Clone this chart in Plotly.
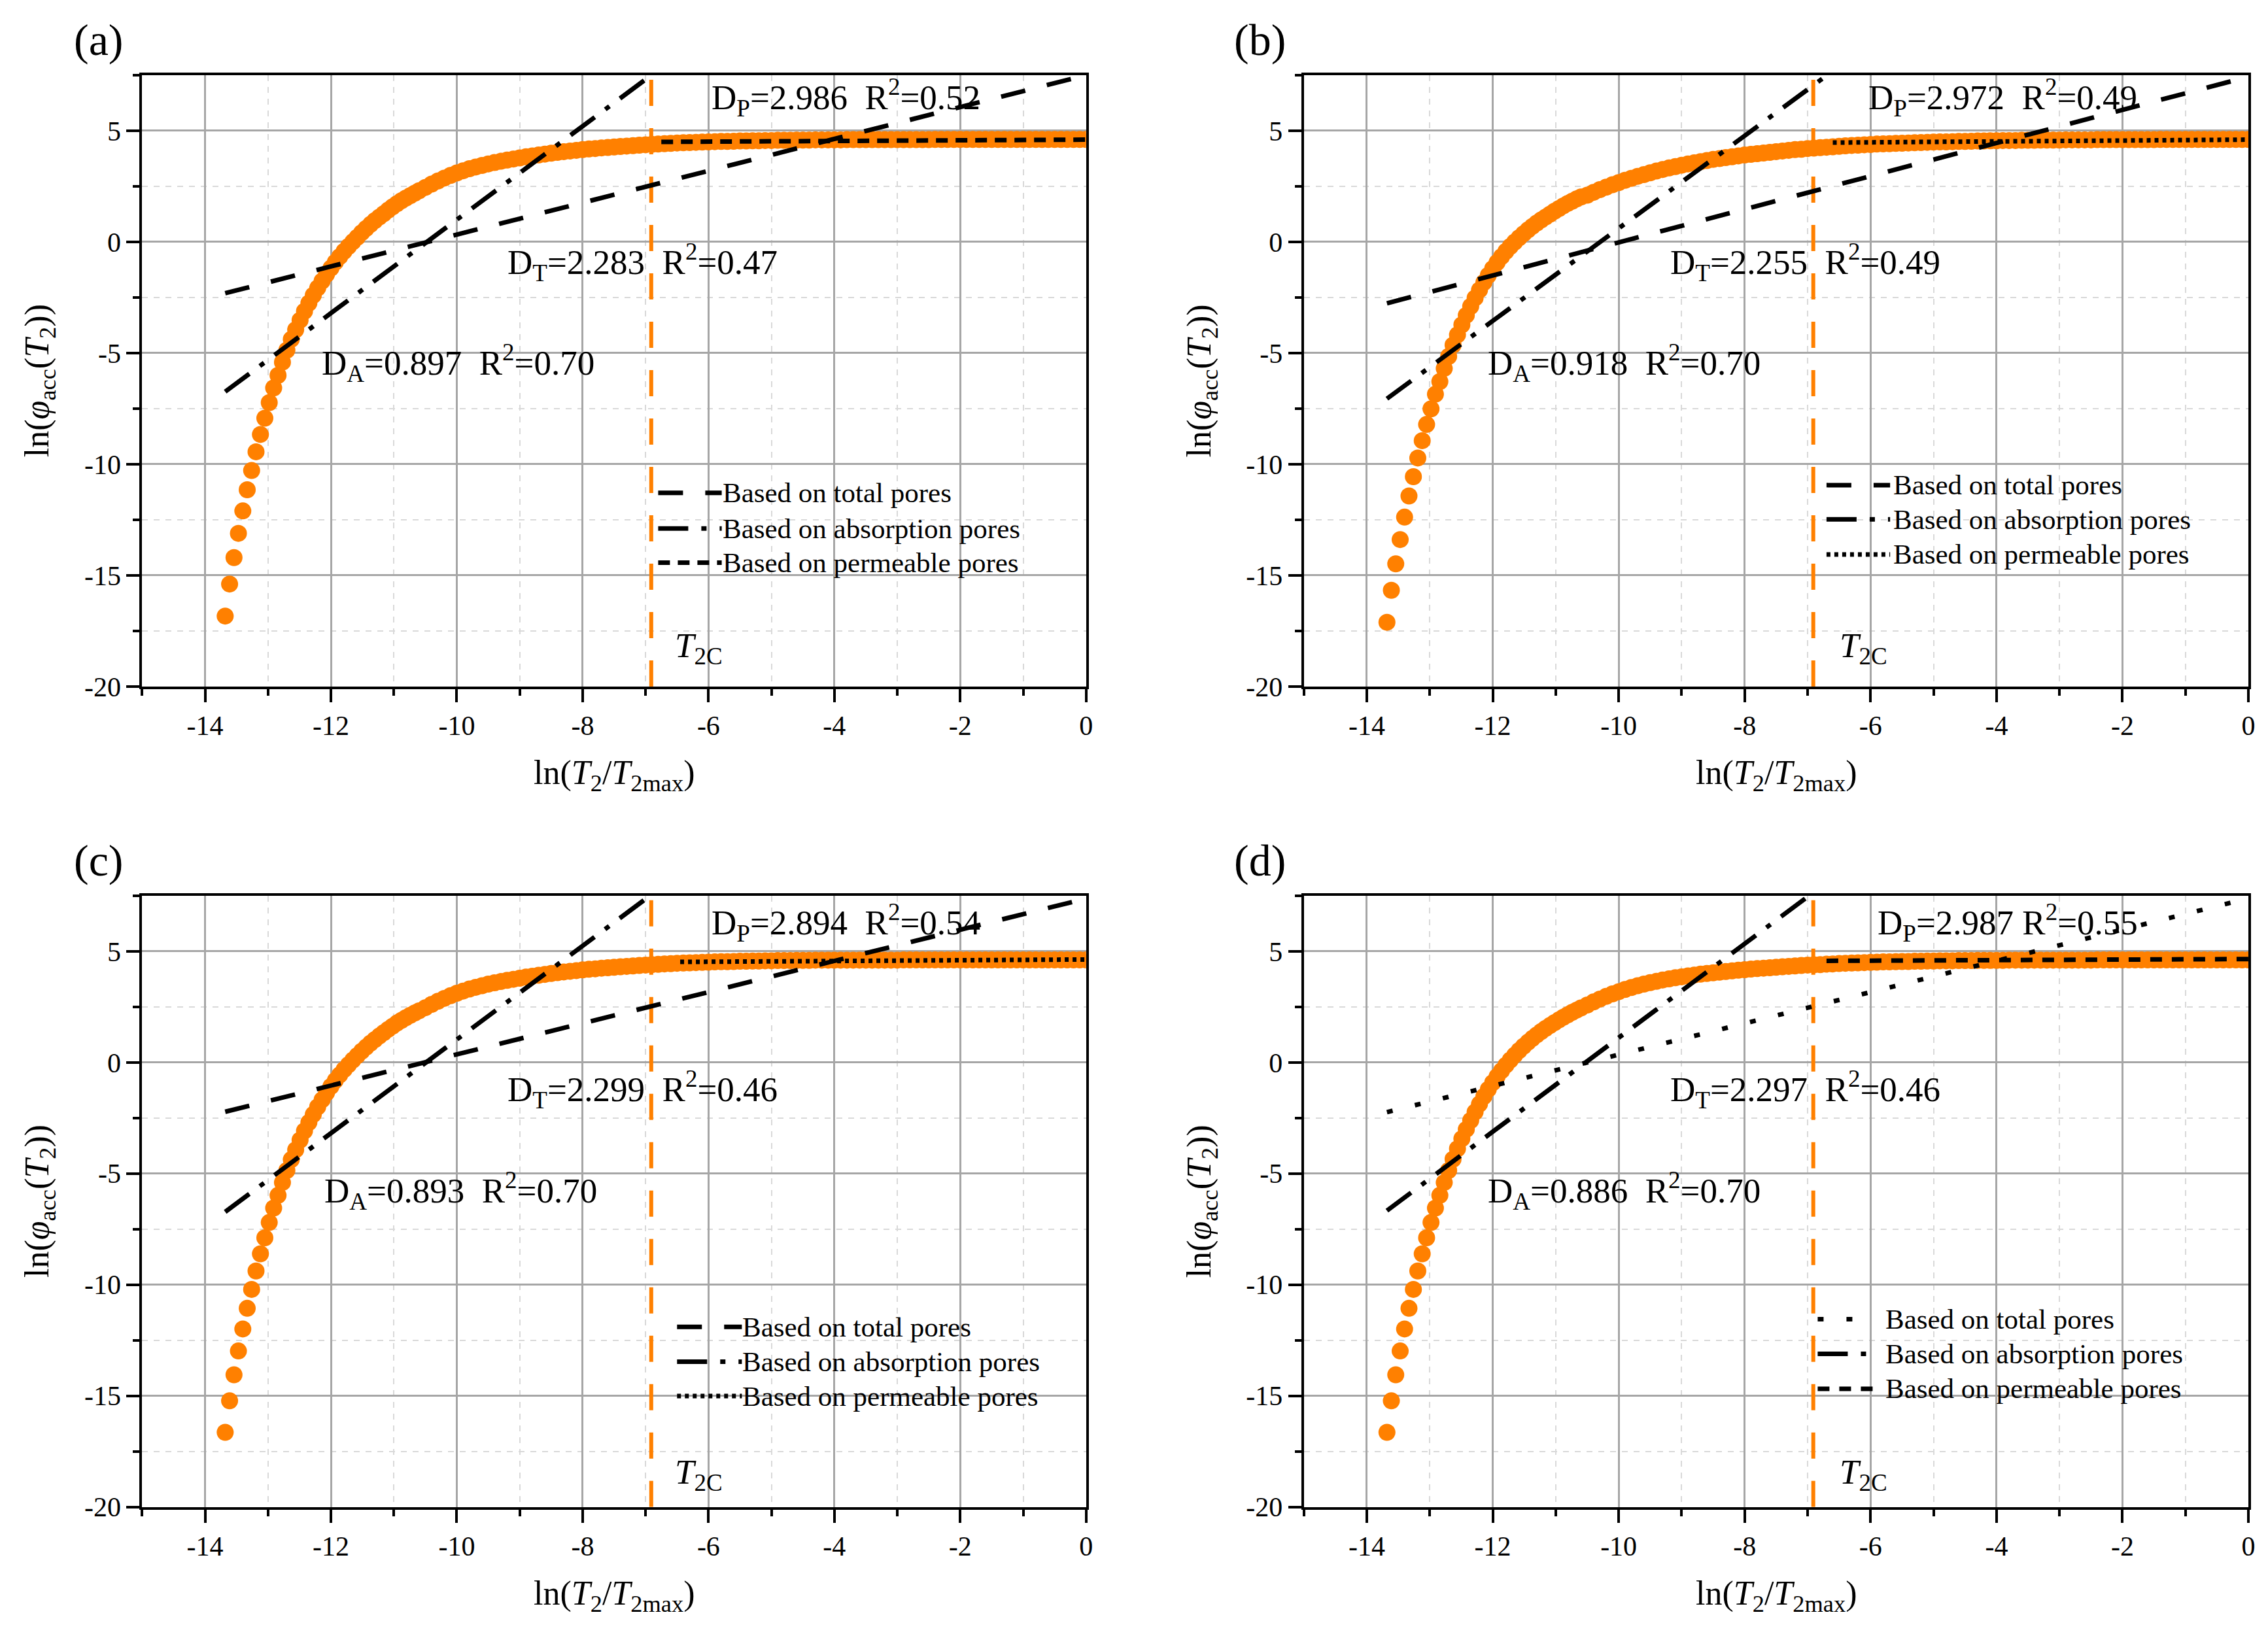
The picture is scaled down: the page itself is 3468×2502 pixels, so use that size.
import plotly.graph_objects as go

# ln(T2/T2max) grid shared by all four samples
X_GRID = [
    -13.68, -13.61, -13.54, -13.47, -13.40, -13.33, -13.26, -13.19, -13.12, -13.05,
    -12.98, -12.91, -12.84, -12.77, -12.70, -12.63, -12.56, -12.49, -12.42, -12.35,
    -12.28, -12.21, -12.14, -12.07, -12.00, -11.93, -11.86, -11.79, -11.72, -11.65,
    -11.58, -11.51, -11.44, -11.37, -11.30, -11.23, -11.16, -11.09, -11.02, -10.95,
    -10.88, -10.81, -10.74, -10.67, -10.60,
    -10.5, -10.4, -10.3, -10.2, -10.1, -10.0, -9.9, -9.8, -9.7, -9.6,
    -9.5, -9.4, -9.3, -9.2, -9.1, -9.0, -8.9, -8.8, -8.7, -8.6,
    -8.5, -8.4, -8.3, -8.2, -8.1, -8.0, -7.9, -7.8, -7.7, -7.6,
    -7.5, -7.4, -7.3, -7.2, -7.1, -7.0, -6.9, -6.8, -6.7, -6.6,
    -6.5, -6.4, -6.3, -6.2, -6.1, -6.0, -5.9, -5.8, -5.7, -5.6,
    -5.5, -5.4, -5.3, -5.2, -5.1, -5.0, -4.9, -4.8, -4.7, -4.6,
    -4.5, -4.4, -4.3, -4.2, -4.1, -4.0, -3.9, -3.8, -3.7, -3.6,
    -3.5, -3.4, -3.3, -3.2, -3.1, -3.0, -2.9, -2.8, -2.7, -2.6,
    -2.5, -2.4, -2.3, -2.2, -2.1, -2.0, -1.9, -1.8, -1.7, -1.6,
    -1.5, -1.4, -1.3, -1.2, -1.1, -1.0, -0.9, -0.8, -0.7, -0.6,
    -0.5, -0.4, -0.3, -0.2, -0.1, 0.0,
]

# ln(phi_acc(T2))
Y_A = [
    -16.83, -15.39, -14.20, -13.11, -12.10, -11.15, -10.28, -9.44, -8.66, -7.93,
    -7.23, -6.57, -6.00, -5.41, -4.87, -4.38, -3.95, -3.52, -3.12, -2.75,
    -2.40, -2.07, -1.76, -1.46, -1.18, -0.91, -0.66, -0.42, -0.20, 0.01,
    0.21, 0.42, 0.61, 0.79, 0.96, 1.12, 1.27, 1.43, 1.58, 1.72,
    1.85, 1.97, 2.08, 2.19, 2.30,
    2.45, 2.60, 2.74, 2.87, 2.99, 3.10, 3.20, 3.29, 3.37, 3.44,
    3.51, 3.57, 3.63, 3.68, 3.73, 3.78, 3.83, 3.87, 3.91, 3.95,
    3.99, 4.03, 4.06, 4.09, 4.12, 4.15, 4.18, 4.20, 4.23, 4.25,
    4.27, 4.29, 4.31, 4.33, 4.35, 4.37, 4.39, 4.40, 4.42, 4.43,
    4.45, 4.46, 4.47, 4.48, 4.49, 4.50, 4.51, 4.52, 4.52, 4.53,
    4.54, 4.54, 4.55, 4.55, 4.56, 4.56, 4.57, 4.57, 4.57, 4.58,
    4.58, 4.58, 4.59, 4.59, 4.59, 4.59, 4.59, 4.60, 4.60, 4.60,
    4.60, 4.60, 4.60, 4.60, 4.60, 4.60, 4.60, 4.60, 4.60, 4.60,
    4.60, 4.61, 4.61, 4.61, 4.61, 4.61, 4.61, 4.61, 4.61, 4.61,
    4.61, 4.61, 4.61, 4.61, 4.61, 4.61, 4.61, 4.61, 4.61, 4.61,
    4.61, 4.61, 4.61, 4.61, 4.61, 4.61,
]
Y_B = [
    -17.11, -15.67, -14.48, -13.39, -12.38, -11.43, -10.56, -9.72, -8.94, -8.21,
    -7.51, -6.85, -6.28, -5.69, -5.15, -4.64, -4.18, -3.73, -3.30, -2.90,
    -2.52, -2.16, -1.82, -1.50, -1.20, -0.92, -0.66, -0.42, -0.20, 0.00,
    0.19, 0.37, 0.54, 0.70, 0.85, 0.99, 1.12, 1.25, 1.38, 1.50,
    1.62, 1.73, 1.83, 1.93, 2.02,
    2.10, 2.23, 2.35, 2.46, 2.57, 2.67, 2.77, 2.86, 2.95, 3.03,
    3.11, 3.19, 3.26, 3.33, 3.39, 3.45, 3.51, 3.56, 3.61, 3.66,
    3.71, 3.75, 3.79, 3.83, 3.87, 3.91, 3.94, 3.97, 4.00, 4.03,
    4.06, 4.09, 4.12, 4.15, 4.17, 4.20, 4.22, 4.24, 4.26, 4.28,
    4.30, 4.32, 4.34, 4.35, 4.37, 4.38, 4.40, 4.41, 4.42, 4.43,
    4.44, 4.45, 4.46, 4.47, 4.48, 4.49, 4.50, 4.50, 4.51, 4.52,
    4.52, 4.53, 4.54, 4.54, 4.55, 4.55, 4.56, 4.56, 4.56, 4.57,
    4.57, 4.57, 4.58, 4.58, 4.58, 4.58, 4.59, 4.59, 4.59, 4.59,
    4.59, 4.60, 4.60, 4.60, 4.60, 4.60, 4.60, 4.60, 4.60, 4.60,
    4.60, 4.61, 4.61, 4.61, 4.61, 4.61, 4.61, 4.61, 4.61, 4.61,
    4.61, 4.61, 4.61, 4.61, 4.61, 4.61,
]
Y_C = [
    -16.64, -15.22, -14.05, -12.98, -11.99, -11.06, -10.21, -9.38, -8.61, -7.89,
    -7.20, -6.55, -5.98, -5.40, -4.86, -4.37, -3.93, -3.49, -3.08, -2.70,
    -2.34, -2.00, -1.68, -1.37, -1.08, -0.81, -0.56, -0.32, -0.10, 0.11,
    0.31, 0.51, 0.69, 0.87, 1.03, 1.19, 1.34, 1.49, 1.63, 1.77,
    1.89, 2.01, 2.12, 2.22, 2.32,
    2.46, 2.61, 2.75, 2.88, 3.00, 3.11, 3.21, 3.30, 3.38, 3.45,
    3.52, 3.58, 3.64, 3.69, 3.74, 3.79, 3.84, 3.88, 3.92, 3.96,
    4.00, 4.04, 4.07, 4.10, 4.13, 4.16, 4.19, 4.21, 4.24, 4.26,
    4.28, 4.30, 4.32, 4.34, 4.36, 4.38, 4.40, 4.41, 4.43, 4.44,
    4.46, 4.47, 4.48, 4.49, 4.50, 4.51, 4.52, 4.53, 4.53, 4.54,
    4.55, 4.55, 4.56, 4.56, 4.57, 4.57, 4.58, 4.58, 4.58, 4.59,
    4.59, 4.59, 4.60, 4.60, 4.60, 4.60, 4.60, 4.60, 4.60, 4.60,
    4.60, 4.60, 4.60, 4.60, 4.60, 4.60, 4.61, 4.61, 4.61, 4.61,
    4.61, 4.61, 4.61, 4.61, 4.61, 4.61, 4.61, 4.61, 4.61, 4.61,
    4.61, 4.61, 4.61, 4.61, 4.61, 4.61, 4.61, 4.61, 4.61, 4.61,
    4.61, 4.61, 4.61, 4.61, 4.61, 4.61,
]
Y_D = [
    -16.64, -15.22, -14.05, -12.98, -11.99, -11.06, -10.21, -9.38, -8.61, -7.89,
    -7.20, -6.55, -5.98, -5.40, -4.86, -4.35, -3.88, -3.43, -3.01, -2.61,
    -2.23, -1.87, -1.53, -1.21, -0.91, -0.63, -0.37, -0.12, 0.11, 0.33,
    0.54, 0.73, 0.91, 1.08, 1.24, 1.39, 1.53, 1.66, 1.79, 1.91,
    2.03, 2.14, 2.25, 2.35, 2.45,
    2.58, 2.72, 2.85, 2.97, 3.08, 3.18, 3.28, 3.37, 3.45, 3.52,
    3.59, 3.65, 3.71, 3.76, 3.81, 3.85, 3.89, 3.93, 3.97, 4.00,
    4.03, 4.06, 4.09, 4.12, 4.15, 4.17, 4.20, 4.22, 4.24, 4.26,
    4.28, 4.30, 4.32, 4.34, 4.36, 4.38, 4.39, 4.40, 4.42, 4.43,
    4.45, 4.46, 4.47, 4.48, 4.49, 4.50, 4.51, 4.52, 4.52, 4.53,
    4.54, 4.54, 4.55, 4.55, 4.56, 4.56, 4.57, 4.57, 4.57, 4.58,
    4.58, 4.58, 4.59, 4.59, 4.59, 4.59, 4.59, 4.60, 4.60, 4.60,
    4.60, 4.60, 4.60, 4.60, 4.60, 4.60, 4.60, 4.60, 4.60, 4.60,
    4.60, 4.61, 4.61, 4.61, 4.61, 4.61, 4.61, 4.61, 4.61, 4.61,
    4.61, 4.61, 4.61, 4.61, 4.61, 4.61, 4.61, 4.61, 4.61, 4.61,
    4.61, 4.61, 4.61, 4.61, 4.61, 4.61,
]
Y_PANELS = [Y_A, Y_B, Y_C, Y_D]
PANEL_TAGS = ["(a)", "(b)", "(c)", "(d)"]

# fractal dimensions and fit quality
D_T = [2.283, 2.255, 2.299, 2.297]
R2_T = [0.47, 0.49, 0.46, 0.46]
D_A = [0.897, 0.918, 0.893, 0.886]
R2_A = [0.70, 0.70, 0.70, 0.70]
D_P = [2.986, 2.972, 2.894, 2.987]
R2_P = [0.52, 0.49, 0.54, 0.55]

# fitted lines y = slope*x + intercept, as drawn
T_SLOPE = [0.717, 0.745, 0.701, 0.703]
T_ICPT = [7.50, 7.43, 7.37, 7.38]
A_SLOPE = [2.103, 2.082, 2.107, 2.114]
A_ICPT = [22.03, 21.43, 22.10, 22.25]
P_SLOPE = [0.015, 0.020, 0.017, 0.012]
P_ICPT = [4.60, 4.60, 4.63, 4.65]
P_START = [-6.75, -6.60, -6.45, -6.70]
T2C = -6.91

X_TICKS = [-14, -12, -10, -8, -6, -4, -2, 0]
X_MINOR = [-15, -13, -11, -9, -7, -5, -3, -1]
Y_TICKS = [-20, -15, -10, -5, 0, 5]
Y_MINOR = [-17.5, -12.5, -7.5, -2.5, 2.5, 7.5]

FONT = "Liberation Serif"
ORANGE = "#FF8000"
W, H = 3468, 2502

# subplot boxes (paper fractions)
X_DOM = [[0.06055, 0.47809], [0.57439, 0.99221], [0.06055, 0.47809], [0.57439, 0.99221]]
Y_DOM = [[0.57954, 0.95683], [0.57954, 0.95683], [0.07314, 0.45044], [0.07314, 0.45044]]

# line dash per panel: total, absorption, permeable
DASH_T = ["38px,34px", "38px,34px", "38px,34px", "9px,35px"]
DASH_A = ["46px,20px,8px,20px"] * 4
DASH_P = ["18px,12px", "6px,6px", "6px,6px", "18px,15px"]

# text placement in data units
DP_POS = [(-5.97, 6.5), (-6.05, 6.5), (-5.97, 6.3), (-5.91, 6.3)]
DT_POS = [(-9.22, -0.92), (-9.20, -0.92), (-9.22, -1.22), (-9.20, -1.22)]
DA_POS = [(-12.17, -5.45), (-12.10, -5.45), (-12.13, -5.76), (-12.10, -5.76)]
T2C_POS = [(-6.55, -18.27), (-6.51, -18.27), (-6.55, -18.53), (-6.51, -18.53)]
LEG_X = [(-6.80, -5.79, -5.80), (-6.70, -5.69, -5.66),
         (-6.50, -5.47, -5.48), (-6.84, -5.96, -5.79)]
LEG_Y = [(-11.29, -12.89, -14.43), (-10.94, -12.48, -14.06),
         (-11.90, -13.46, -15.01), (-11.55, -13.11, -14.68)]
LEG_TEXT = ["Based on total pores", "Based on absorption pores", "Based on permeable pores"]


def axis_common(ticks, minor, rng, dom, anchor):
    return dict(
        domain=dom, range=rng, anchor=anchor,
        tickmode="array", tickvals=ticks, ticktext=[f"{t:g}" for t in ticks],
        ticks="outside", ticklen=20, tickwidth=4, tickcolor="black",
        tickfont=dict(family=FONT, size=42, color="black"),
        showline=True, linewidth=4, linecolor="black", mirror=True,
        showgrid=True, gridcolor="#A6A6A6", gridwidth=2.5, zeroline=False,
        minor=dict(tickvals=minor, ticks="outside", ticklen=10, tickwidth=4,
                   tickcolor="black", showgrid=True, gridcolor="#D9D9D9",
                   gridwidth=2, griddash="dash"),
    )


fig = go.Figure()
annotations = []
shapes = []
layout_axes = {}

for i in range(4):
    sfx = "" if i == 0 else str(i + 1)
    xa, ya = "x" + sfx, "y" + sfx
    layout_axes["xaxis" + sfx] = axis_common(X_TICKS, X_MINOR, [-15, 0], X_DOM[i], ya)
    layout_axes["yaxis" + sfx] = axis_common(Y_TICKS, Y_MINOR, [-20, 7.5], Y_DOM[i], xa)

    # accumulated porosity curve
    fig.add_trace(go.Scatter(
        x=X_GRID, y=Y_PANELS[i], mode="markers", xaxis=xa, yaxis=ya,
        marker=dict(size=26, color=ORANGE, line=dict(width=0)), showlegend=False,
    ))
    # T2 cutoff
    fig.add_trace(go.Scatter(
        x=[T2C, T2C], y=[-20, 7.5], mode="lines", xaxis=xa, yaxis=ya,
        line=dict(color=ORANGE, width=6, dash="40px,34px"), showlegend=False,
    ))
    # fits
    x0 = X_GRID[0]
    fig.add_trace(go.Scatter(
        x=[x0, 0], y=[T_SLOPE[i] * x0 + T_ICPT[i], T_ICPT[i]], mode="lines",
        xaxis=xa, yaxis=ya, line=dict(color="black", width=7, dash=DASH_T[i]),
        showlegend=False,
    ))
    fig.add_trace(go.Scatter(
        x=[x0, 0], y=[A_SLOPE[i] * x0 + A_ICPT[i], A_ICPT[i]], mode="lines",
        xaxis=xa, yaxis=ya, line=dict(color="black", width=7, dash=DASH_A[i]),
        showlegend=False,
    ))
    fig.add_trace(go.Scatter(
        x=[P_START[i], 0], y=[P_SLOPE[i] * P_START[i] + P_ICPT[i], P_ICPT[i]],
        mode="lines", xaxis=xa, yaxis=ya,
        line=dict(color="black", width=7, dash=DASH_P[i]), showlegend=False,
    ))

    sep = "\u00a0" if i == 3 else "\u00a0\u00a0"
    texts = [
        (DP_POS[i], f"D<sub>P</sub>={D_P[i]:.3f}{sep}R<sup>2</sup>={R2_P[i]:.2f}"),
        (DT_POS[i], f"D<sub>T</sub>={D_T[i]:.3f}\u00a0\u00a0R<sup>2</sup>={R2_T[i]:.2f}"),
        (DA_POS[i], f"D<sub>A</sub>={D_A[i]:.3f}\u00a0\u00a0R<sup>2</sup>={R2_A[i]:.2f}"),
        (T2C_POS[i], "<i>T</i><sub>2C</sub>"),
    ]
    for (px, py), txt in texts:
        annotations.append(dict(
            x=px, y=py, xref=xa, yref=ya, text=txt, showarrow=False,
            xanchor="left", yanchor="middle",
            font=dict(family=FONT, size=53, color="black"),
        ))

    # hand-made legend
    dashes = [DASH_T[i], DASH_A[i], DASH_P[i]]
    lx0, lx1, ltx = LEG_X[i]
    for k in range(3):
        ly = LEG_Y[i][k]
        shapes.append(dict(
            type="line", xref=xa, yref=ya, x0=lx0, x1=lx1, y0=ly, y1=ly,
            line=dict(color="black", width=7, dash=dashes[k]),
        ))
        annotations.append(dict(
            x=ltx, y=ly, xref=xa, yref=ya, text=LEG_TEXT[k], showarrow=False,
            xanchor="left", yanchor="middle",
            font=dict(family=FONT, size=43, color="black"),
        ))

    # axis titles and panel tag
    cx = (X_DOM[i][0] + X_DOM[i][1]) / 2
    cy = (Y_DOM[i][0] + Y_DOM[i][1]) / 2
    annotations.append(dict(
        x=cx, y=Y_DOM[i][0] - 0.0547, xref="paper", yref="paper",
        text="ln(<i>T</i><sub>2</sub>/<i>T</i><sub>2max</sub>)", showarrow=False,
        xanchor="center", yanchor="middle",
        font=dict(family=FONT, size=52, color="black"),
    ))
    annotations.append(dict(
        x=X_DOM[i][0] - 0.0453, y=cy, xref="paper", yref="paper",
        text="ln(<i>φ</i><sub>acc</sub>(<i>T</i><sub>2</sub>))", showarrow=False,
        textangle=-90, xanchor="center", yanchor="middle",
        font=dict(family=FONT, size=52, color="black"),
    ))
    annotations.append(dict(
        x=X_DOM[i][0] - 0.0194, y=Y_DOM[i][1] + 0.0216, xref="paper", yref="paper",
        text=PANEL_TAGS[i], showarrow=False, xanchor="center", yanchor="middle",
        font=dict(family=FONT, size=68, color="black"),
    ))

fig.update_layout(
    width=W, height=H,
    margin=dict(l=0, r=0, t=0, b=0),
    paper_bgcolor="white", plot_bgcolor="white",
    font=dict(family=FONT, color="black"),
    showlegend=False,
    annotations=annotations,
    shapes=shapes,
    **layout_axes,
)

fig.write_html("out.html")
